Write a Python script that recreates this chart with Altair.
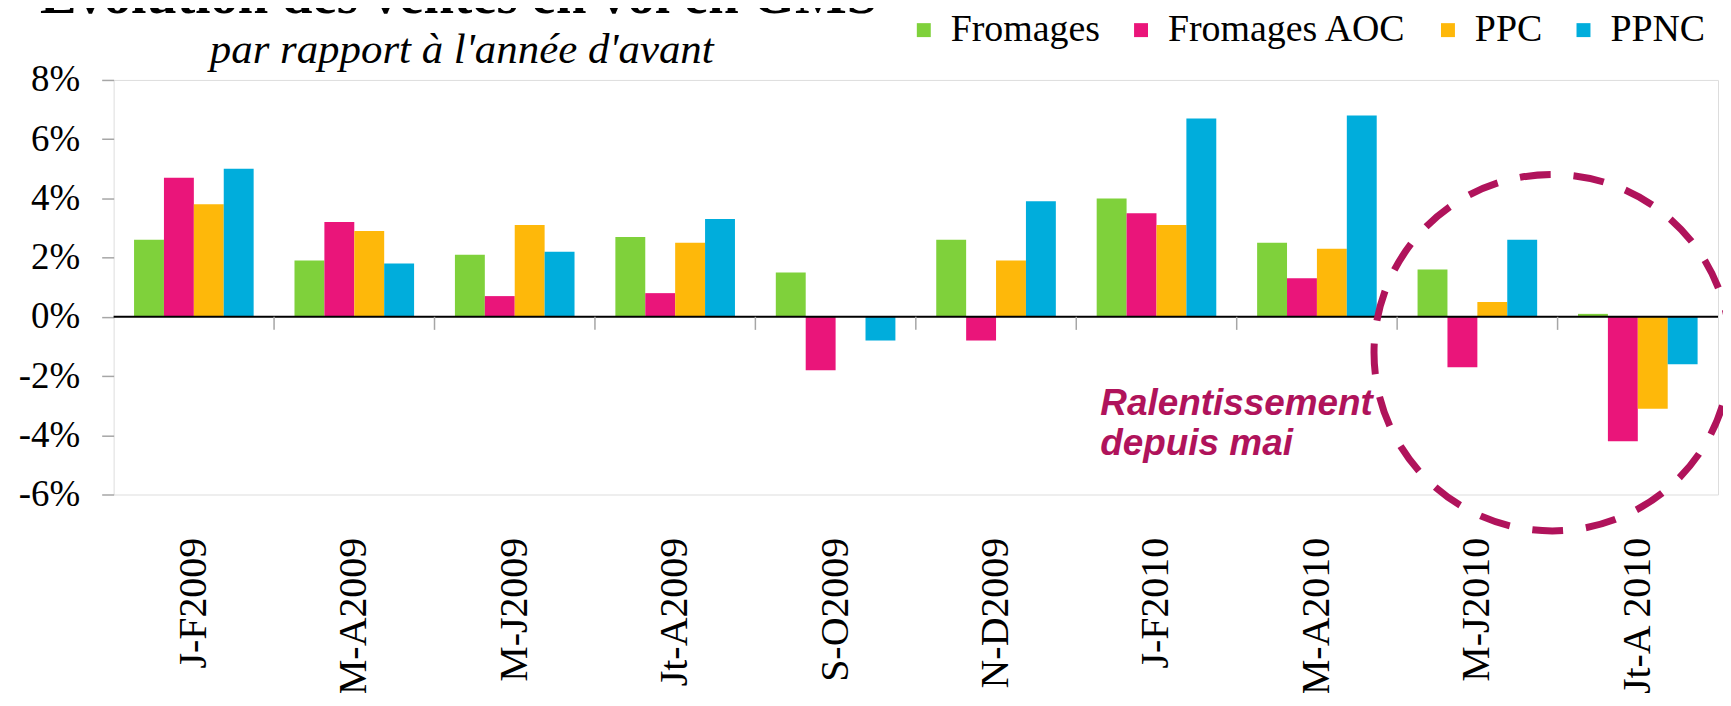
import altair as alt
import pandas as pd

categories = ["J-F2009", "M-A2009", "M-J2009", "Jt-A2009", "S-O2009",
              "N-D2009", "J-F2010", "M-A2010", "M-J2010", "Jt-A 2010"]
series = ["Fromages", "Fromages AOC", "PPC", "PPNC"]
fromages = [2.6, 1.9, 2.1, 2.7, 1.5, 2.6, 4.0, 2.5, 1.6, 0.1]
fromages_aoc = [4.7, 3.2, 0.7, 0.8, -1.8, -0.8, 3.5, 1.3, -1.7, -4.2]
ppc = [3.8, 2.9, 3.1, 2.5, 0.0, 1.9, 3.1, 2.3, 0.5, -3.1]
ppnc = [5.0, 1.8, 2.2, 3.3, -0.8, 3.9, 6.7, 6.8, 2.6, -1.6]
colors = ["#7FD13B", "#EA157A", "#FEB80A", "#00ADDC"]
y_ticks = [-6, -4, -2, 0, 2, 4, 6, 8]

rows = []
for name, vals in zip(series, [fromages, fromages_aoc, ppc, ppnc]):
    for c, v in zip(categories, vals):
        rows.append({"periode": c, "serie": name, "valeur": v})
df = pd.DataFrame(rows)

SERIF = "Liberation Serif"
ACCENT = "#B0135B"

x_scale = alt.Scale(domain=categories, paddingInner=0, paddingOuter=0)
y_scale = alt.Scale(domain=[-6, 8], nice=False, zero=False)

bars = alt.Chart(df).mark_bar().encode(
    x=alt.X("periode:N", sort=categories, scale=x_scale,
            axis=alt.Axis(title=None, labelAngle=-90, labelAlign="right",
                          labelBaseline="middle", labelFont=SERIF,
                          labelFontSize=40, labelColor="black",
                          labelPadding=43, ticks=False, domain=False,
                          grid=False, labelOverlap=False, labelLimit=0)),
    xOffset=alt.XOffset("serie:N", sort=series,
                        scale=alt.Scale(domain=series, paddingInner=0,
                                        paddingOuter=0.683)),
    y=alt.Y("valeur:Q", scale=y_scale,
            axis=alt.Axis(values=y_ticks, labelExpr="datum.value + '%'",
                          labelFont=SERIF, labelFontSize=37,
                          labelColor="black", labelPadding=22,
                          tickSize=12, tickColor="#A6A6A6", tickWidth=1.5,
                          domain=False, grid=False,
                          title="par rapport à l'année d'avant",
                          titleAngle=0, titleX=96, titleY=-18,
                          titleAlign="left", titleBaseline="alphabetic",
                          titleFont=SERIF, titleFontSize=43,
                          titleFontStyle="italic", titleFontWeight="normal",
                          titleColor="black")),
    color=alt.Color("serie:N", sort=series,
                    scale=alt.Scale(domain=series, range=colors),
                    legend=alt.Legend(title=None, orient="none",
                                      legendX=794, legendY=-69,
                                      direction="horizontal", columns=4,
                                      symbolType="square", symbolSize=196,
                                      symbolStrokeWidth=0,
                                      labelFont=SERIF, labelFontSize=38,
                                      labelColor="black", labelOffset=8,
                                      columnPadding=22, padding=0,
                                      labelLimit=0)),
)

zero = alt.Chart(pd.DataFrame({"v": [0]})).mark_rule(
    color="black", strokeWidth=2).encode(y=alt.Y("v:Q", scale=y_scale))

bounds_df = pd.DataFrame({"periode": categories[1:]})
ticks = alt.Chart(bounds_df).mark_rule(color="#A6A6A6", strokeWidth=1.5).encode(
    x=alt.X("periode:N", sort=categories, bandPosition=0),
    y=alt.datum(0),
    y2=alt.datum(-0.44),
)

circle = alt.Chart(pd.DataFrame({"periode": ["M-J2010"], "v": [-1.21]})).mark_point(
    shape="circle", size=128000, filled=False, stroke=ACCENT,
    strokeWidth=7, strokeDash=[31, 23], opacity=1,
).encode(
    x=alt.X("periode:N", sort=categories, bandPosition=0.967),
    y=alt.Y("v:Q"),
)

note = alt.Chart(pd.DataFrame({"periode": ["J-F2010"], "v": [-3.31]})).mark_text(
    text=["Ralentissement", "depuis mai"], align="left", baseline="alphabetic",
    font="Liberation Sans", fontSize=37, fontWeight="bold", fontStyle="italic",
    color=ACCENT, lineHeight=40,
).encode(
    x=alt.X("periode:N", sort=categories, bandPosition=0.15),
    y=alt.Y("v:Q"),
)

chart = alt.layer(bars, zero, ticks, circle, note).properties(
    width=1610, height=416,
    autosize=alt.AutoSizeParams(type="none"),
    padding={"left": 106, "top": 71, "right": 5, "bottom": 198},
    title=alt.TitleParams("Evolution des ventes en vol en GMS", font=SERIF,
                          fontSize=55, fontWeight="bold", color="black",
                          anchor="start", frame="group", dx=-74, dy=57,
                          baseline="alphabetic", offset=0),
).configure_view(stroke="black", strokeWidth=2.5).configure(background="white")

chart.save("out.html", embed_options={"renderer": "svg", "actions": False})
